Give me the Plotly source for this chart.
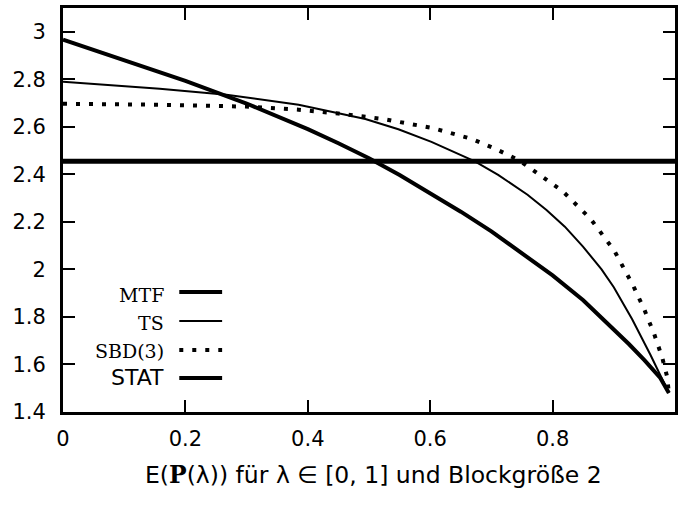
import plotly.graph_objects as go

# data
mtf_x = [0.0, 0.1, 0.2, 0.3, 0.35, 0.4, 0.45, 0.5, 0.55, 0.6, 0.65, 0.7, 0.75, 0.8, 0.85,
         0.9, 0.925, 0.95, 0.976, 0.99]
mtf_y = [2.967, 2.88, 2.793, 2.698, 2.645, 2.59, 2.531, 2.468, 2.397, 2.322, 2.243, 2.16, 2.07,
         1.975, 1.87, 1.748, 1.685, 1.618, 1.543, 1.48]

ts_x = [0.0, 0.158, 0.267, 0.385, 0.494, 0.548, 0.602, 0.673, 0.711, 0.759, 0.79, 0.82, 0.85,
        0.88, 0.9, 0.93, 0.96, 0.99]
ts_y = [2.79, 2.76, 2.735, 2.693, 2.633, 2.59, 2.537, 2.455, 2.398, 2.314, 2.25, 2.18, 2.095,
        2.0, 1.925, 1.79, 1.64, 1.48]

sbd_x = [0.0, 0.158, 0.299, 0.385, 0.45, 0.52, 0.602, 0.667, 0.707, 0.746, 0.816, 0.862, 0.901,
         0.932, 0.95, 0.966, 0.979, 0.987, 0.99]
sbd_y = [2.697, 2.693, 2.685, 2.672, 2.656, 2.634, 2.596, 2.55, 2.507, 2.458, 2.33, 2.213, 2.078,
         1.93, 1.83, 1.728, 1.63, 1.55, 1.48]

stat_x = [0.0, 1.0]
stat_y = [2.455, 2.455]

x_ticks = [0, 0.2, 0.4, 0.6, 0.8, 1]
x_ticklabels = ["0", "0.2", "0.4", "0.6", "0.8", "1"]
y_ticks = [1.4, 1.6, 1.8, 2.0, 2.2, 2.4, 2.6, 2.8, 3.0]
y_ticklabels = ["1.4", "1.6", "1.8", "2", "2.2", "2.4", "2.6", "2.8", "3"]

legend_names = ["MTF", "TS", "SBD(3)", "STAT"]

fig = go.Figure()
fig.add_trace(go.Scatter(x=stat_x, y=stat_y, mode="lines", name="STAT",
                         line=dict(color="black", width=5)))
fig.add_trace(go.Scatter(x=sbd_x, y=sbd_y, mode="lines", name="SBD(3)",
                         line=dict(color="black", width=4, dash="4px,9px")))
fig.add_trace(go.Scatter(x=ts_x, y=ts_y, mode="lines", name="TS",
                         line=dict(color="black", width=2)))
fig.add_trace(go.Scatter(x=mtf_x, y=mtf_y, mode="lines", name="MTF",
                         line=dict(color="black", width=4)))

# custom legend (text left, line sample right)
leg_text_y = [0.2898, 0.2203, 0.1510, 0.0842]
leg_line_y = [0.2970, 0.2252, 0.1535, 0.0842]
leg_fonts = ["DejaVu Serif", "DejaVu Serif", "DejaVu Serif", "DejaVu Sans"]
leg_sizes = [19, 19, 19, 22]
leg_styles = [dict(width=4), dict(width=2), dict(width=4, dash="4px,9px"), dict(width=4)]
for name, ty, ly, fam, sz, st in zip(legend_names, leg_text_y, leg_line_y, leg_fonts, leg_sizes, leg_styles):
    fig.add_annotation(x=0.168, y=ty, xref="paper", yref="paper", text=name, showarrow=False,
                       xanchor="right", yanchor="middle", font=dict(family=fam, size=sz, color="black"))
    fig.add_shape(type="line", xref="paper", yref="paper", x0=0.190, x1=0.260, y0=ly, y1=ly,
                  line=dict(color="black", **st))

fig.add_annotation(x=0.507, y=-0.156, xref="paper", yref="paper", showarrow=False,
                   xanchor="center", yanchor="middle",
                   text="E(<b><span style=\"font-family:'DejaVu Serif'\">P</span></b>(λ)) für λ ∈ [0, 1] und Blockgröße 2",
                   font=dict(family="DejaVu Sans", size=23.5, color="black"))

axis_common = dict(showline=True, linecolor="black", linewidth=3, mirror="allticks",
                   ticks="inside", ticklen=12, tickwidth=2, tickcolor="black",
                   showgrid=False, zeroline=False,
                   tickfont=dict(family="DejaVu Sans", size=21, color="black"))

fig.update_xaxes(range=[0, 1], tickvals=x_ticks, ticktext=x_ticklabels, ticklabelstandoff=6, **axis_common)
fig.update_yaxes(range=[1.4, 3.1], tickvals=y_ticks, ticktext=y_ticklabels, ticklabelstandoff=10, **axis_common)

fig.update_layout(width=680, height=506, margin=dict(l=63, r=2, t=8, b=94),
                  plot_bgcolor="white", paper_bgcolor="white", showlegend=False)

fig.write_html("out.html")
